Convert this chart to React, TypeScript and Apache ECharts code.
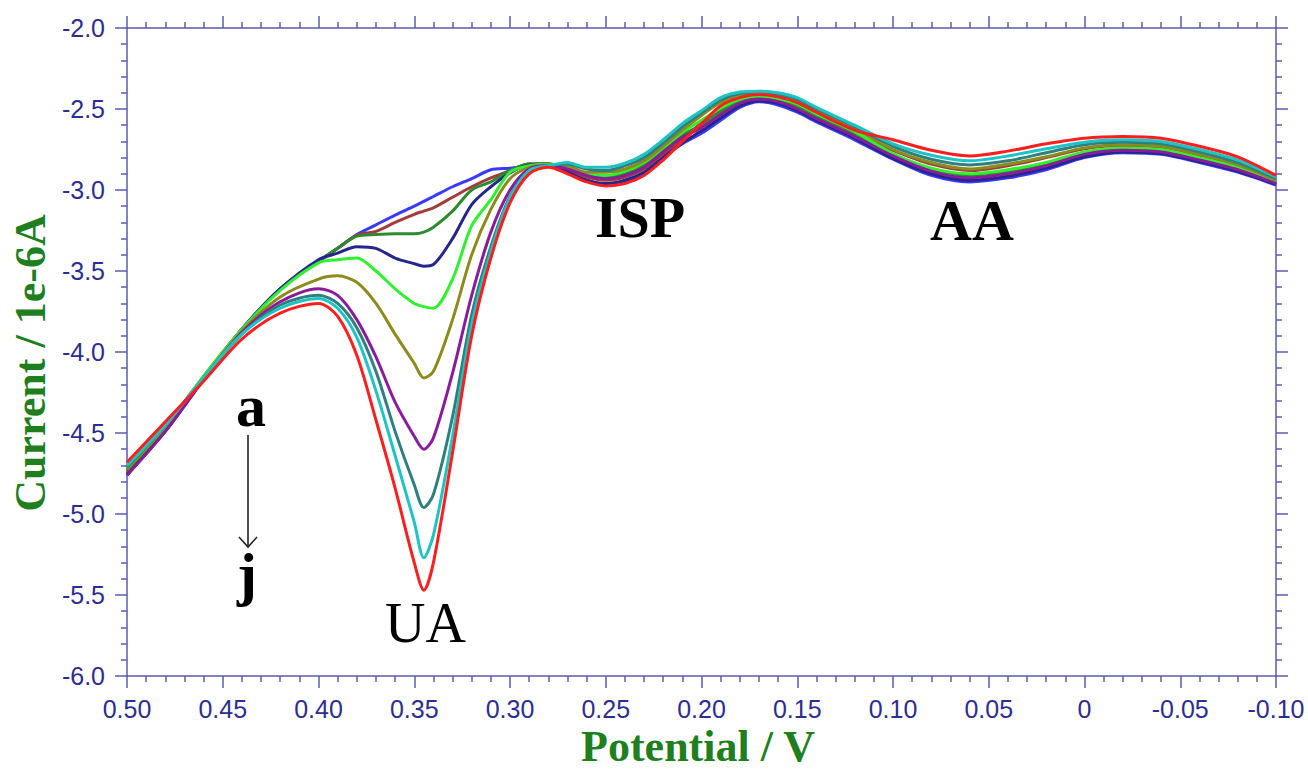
import React, { useEffect, useRef } from "react";
import * as echarts from "echarts";

// Potential (V) sample points
const POTENTIAL = [
  0.5, 0.48, 0.46, 0.44, 0.42,
  0.4, 0.39, 0.38, 0.37, 0.36,
  0.35, 0.345, 0.34, 0.33, 0.32,
  0.31, 0.3, 0.29, 0.28, 0.27,
  0.26, 0.25, 0.24, 0.23, 0.22,
  0.21, 0.2, 0.19, 0.18, 0.17,
  0.16, 0.15, 0.14, 0.12, 0.1,
  0.08, 0.06, 0.04, 0.02, 0.0,
  -0.02, -0.04, -0.06, -0.08, -0.1,
];

// Current (1e-6 A) for curves a .. j
const CURVE_A = [
  -4.75, -4.48, -4.16, -3.86, -3.61,
  -3.44, -3.36, -3.275, -3.215, -3.155,
  -3.1, -3.07, -3.04, -2.98, -2.93,
  -2.875, -2.865, -2.85, -2.84, -2.89,
  -2.94, -2.965, -2.95, -2.9, -2.8,
  -2.715, -2.65, -2.57, -2.49, -2.455,
  -2.475, -2.52, -2.58, -2.69, -2.81,
  -2.91, -2.95, -2.925, -2.875, -2.8,
  -2.77, -2.78, -2.83, -2.89, -2.97,
];
const CURVE_B = [
  -4.74, -4.48, -4.16, -3.86, -3.61,
  -3.44, -3.36, -3.28, -3.255, -3.2,
  -3.15, -3.13, -3.11, -3.045, -2.98,
  -2.925, -2.88, -2.84, -2.84, -2.88,
  -2.92, -2.94, -2.92, -2.87, -2.78,
  -2.69, -2.585, -2.505, -2.45, -2.425,
  -2.44, -2.48, -2.54, -2.65, -2.755,
  -2.84, -2.88, -2.85, -2.8, -2.745,
  -2.725, -2.735, -2.785, -2.85, -2.94,
];
const CURVE_C = [
  -4.73, -4.47, -4.15, -3.86, -3.61,
  -3.44, -3.36, -3.285, -3.275, -3.27,
  -3.27, -3.26, -3.23, -3.13, -3.0,
  -2.95, -2.88, -2.84, -2.84, -2.865,
  -2.905, -2.92, -2.9, -2.845, -2.75,
  -2.66, -2.6, -2.52, -2.455, -2.43,
  -2.45, -2.49, -2.55, -2.66, -2.78,
  -2.87, -2.91, -2.885, -2.835, -2.77,
  -2.745, -2.755, -2.805, -2.865, -2.955,
];
const CURVE_D = [
  -4.76, -4.49, -4.17, -3.86, -3.61,
  -3.43, -3.39, -3.35, -3.36, -3.42,
  -3.455, -3.47, -3.46, -3.3, -3.09,
  -2.98, -2.895, -2.845, -2.84, -2.89,
  -2.94, -2.96, -2.94, -2.89, -2.8,
  -2.71, -2.635, -2.555, -2.48, -2.45,
  -2.465, -2.51, -2.57, -2.68, -2.805,
  -2.9, -2.94, -2.915, -2.865, -2.795,
  -2.765, -2.775, -2.825, -2.885, -2.965,
];
const CURVE_E = [
  -4.72, -4.46, -4.15, -3.86, -3.62,
  -3.45, -3.43, -3.42, -3.5, -3.61,
  -3.7, -3.72, -3.73, -3.55, -3.22,
  -3.06, -2.89, -2.85, -2.84, -2.86,
  -2.9, -2.91, -2.885, -2.83, -2.74,
  -2.645, -2.57, -2.495, -2.44, -2.42,
  -2.435, -2.47, -2.53, -2.64, -2.775,
  -2.865, -2.9, -2.875, -2.83, -2.765,
  -2.74, -2.75, -2.8, -2.86, -2.95,
];
const CURVE_F = [
  -4.72, -4.46, -4.16, -3.87, -3.66,
  -3.55, -3.53, -3.57, -3.7, -3.89,
  -4.07, -4.16, -4.12, -3.8, -3.4,
  -3.12, -2.93, -2.86, -2.845, -2.85,
  -2.89, -2.89, -2.87, -2.82, -2.73,
  -2.63, -2.54, -2.46, -2.415, -2.4,
  -2.415, -2.45, -2.51, -2.62, -2.75,
  -2.83, -2.87, -2.84, -2.795, -2.74,
  -2.72, -2.73, -2.78, -2.845, -2.94,
];
const CURVE_G = [
  -4.76, -4.49, -4.17, -3.88, -3.69,
  -3.61, -3.65, -3.8, -4.03, -4.31,
  -4.52, -4.6, -4.53, -4.13, -3.65,
  -3.26, -3.0, -2.87, -2.85, -2.87,
  -2.91, -2.93, -2.91, -2.86, -2.765,
  -2.675, -2.615, -2.535, -2.465, -2.44,
  -2.455, -2.5, -2.56, -2.67, -2.79,
  -2.885, -2.925, -2.9, -2.85, -2.78,
  -2.755, -2.765, -2.815, -2.875, -2.96,
];
const CURVE_H = [
  -4.71, -4.45, -4.16, -3.89, -3.71,
  -3.65, -3.7, -3.85, -4.12, -4.49,
  -4.82, -4.96, -4.88, -4.4, -3.77,
  -3.35, -3.04, -2.88, -2.85, -2.84,
  -2.87, -2.88, -2.85, -2.8, -2.71,
  -2.61, -2.525, -2.445, -2.405, -2.395,
  -2.41, -2.44, -2.5, -2.61, -2.73,
  -2.81, -2.845, -2.82, -2.77, -2.72,
  -2.705, -2.715, -2.765, -2.83, -2.93,
];
const CURVE_I = [
  -4.7, -4.45, -4.16, -3.89, -3.73,
  -3.67, -3.73, -3.91, -4.24, -4.64,
  -5.05, -5.27, -5.13, -4.52, -3.83,
  -3.38, -3.05, -2.88, -2.85, -2.83,
  -2.86, -2.86, -2.835, -2.78, -2.69,
  -2.59, -2.51, -2.43, -2.395, -2.39,
  -2.4, -2.43, -2.49, -2.6, -2.715,
  -2.785, -2.82, -2.79, -2.745, -2.705,
  -2.69, -2.7, -2.75, -2.815, -2.92,
];
const CURVE_J = [
  -4.68, -4.43, -4.18, -3.92, -3.76,
  -3.7, -3.78, -4.02, -4.42, -4.84,
  -5.3, -5.47, -5.3, -4.62, -3.9,
  -3.42, -3.08, -2.9, -2.86, -2.9,
  -2.95, -2.975, -2.96, -2.91, -2.815,
  -2.7, -2.59, -2.48, -2.43, -2.41,
  -2.425, -2.46, -2.52, -2.63, -2.69,
  -2.755, -2.79, -2.76, -2.715, -2.68,
  -2.67, -2.68, -2.73, -2.795, -2.91,
];

const CURVE_NAMES = ["a", "b", "c", "d", "e", "f", "g", "h", "i", "j"];
const CURVES = [CURVE_A, CURVE_B, CURVE_C, CURVE_D, CURVE_E, CURVE_F, CURVE_G, CURVE_H, CURVE_I, CURVE_J];

const X_TITLE = "Potential / V";
const Y_TITLE = "Current / 1e-6A";

export default function App() {
  const ref = useRef<HTMLDivElement>(null);

  useEffect(() => {
    if (!ref.current) return;
    const chart = echarts.init(ref.current, undefined, { renderer: "svg" });
    const colors = [
      "#3a3aff", "#a23c3c", "#2e8a2e", "#25258c", "#30f030",
      "#8c8c1c", "#8a1c9c", "#2f7f7f", "#1ec4c4", "#ff1e1e",
    ];
    const axisColor = "#5b5bb0";
    const labelColor = "#2d2d8e";
    const titleColor = "#1f7f1f";
    const lineStyle = { color: axisColor, width: 1.5 };
    const tickFont = '"Liberation Sans", Arial, sans-serif';
    const serif = '"Liberation Serif", "Times New Roman", serif';

    const xBase = {
      type: "value",
      min: -0.1,
      max: 0.5,
      interval: 0.05,
      inverse: true,
      splitLine: { show: false },
      axisLine: { show: true, onZero: false, lineStyle },
      axisTick: { show: true, length: 12, lineStyle },
      minorTick: { show: true, splitNumber: 5, length: 6, lineStyle },
      minorSplitLine: { show: false },
    };
    const yBase = {
      type: "value",
      min: -6,
      max: -2,
      interval: 0.5,
      splitLine: { show: false },
      axisLine: { show: true, onZero: false, lineStyle },
      axisTick: { show: true, length: 12, lineStyle },
      minorTick: { show: true, splitNumber: 5, length: 6, lineStyle },
      minorSplitLine: { show: false },
    };

    const option: any = {
      animation: false,
      backgroundColor: "#ffffff",
      grid: { left: 127, right: 32, top: 28, bottom: 99 },
      xAxis: [
        {
          ...xBase,
          position: "bottom",
          axisLabel: {
            show: true,
            margin: 20,
            color: labelColor,
            fontSize: 25,
            fontFamily: tickFont,
            formatter: (v: number) => (Math.abs(v) < 1e-9 ? "0" : v.toFixed(2)),
          },
        },
        { ...xBase, position: "top", axisLabel: { show: false } },
      ],
      yAxis: [
        {
          ...yBase,
          position: "left",
          axisLabel: {
            show: true,
            margin: 22,
            color: labelColor,
            fontSize: 25,
            fontFamily: tickFont,
            formatter: (v: number) => v.toFixed(1),
          },
        },
        { ...yBase, position: "right", axisLabel: { show: false } },
      ],
      series: CURVES.map((ys, k) => ({
        name: CURVE_NAMES[k],
        type: "line",
        xAxisIndex: 0,
        yAxisIndex: 0,
        showSymbol: false,
        smooth: 0.3,
        data: POTENTIAL.map((x, i) => [x, ys[i]]),
        lineStyle: { color: colors[k], width: 3 },
        itemStyle: { color: colors[k] },
      })),
      graphic: [
        {
          type: "text",
          x: 698,
          y: 746,
          style: {
            text: X_TITLE,
            fill: titleColor,
            fontFamily: serif,
            fontWeight: "bold",
            fontSize: 44,
            align: "center",
            verticalAlign: "middle",
          },
        },
        {
          type: "text",
          x: 30,
          y: 363,
          rotation: Math.PI / 2,
          style: {
            text: Y_TITLE,
            fill: titleColor,
            fontFamily: serif,
            fontWeight: "bold",
            fontSize: 44,
            align: "center",
            verticalAlign: "middle",
          },
        },
        {
          type: "text",
          x: 385,
          y: 623,
          style: { text: "UA", fill: "#000", fontFamily: serif, fontSize: 56, align: "left", verticalAlign: "middle" },
        },
        {
          type: "text",
          x: 595,
          y: 217,
          style: { text: "ISP", fill: "#000", fontFamily: serif, fontWeight: "bold", fontSize: 58, align: "left", verticalAlign: "middle" },
        },
        {
          type: "text",
          x: 930,
          y: 220,
          style: { text: "AA", fill: "#000", fontFamily: serif, fontWeight: "bold", fontSize: 58, align: "left", verticalAlign: "middle" },
        },
        {
          type: "text",
          x: 251,
          y: 406,
          style: { text: "a", fill: "#000", fontFamily: serif, fontWeight: "bold", fontSize: 60, align: "center", verticalAlign: "middle" },
        },
        {
          type: "text",
          x: 247,
          y: 574,
          style: { text: "j", fill: "#000", fontFamily: serif, fontWeight: "bold", fontSize: 60, align: "center", verticalAlign: "middle" },
        },
        {
          type: "line",
          shape: { x1: 248, y1: 435, x2: 248, y2: 547 },
          style: { stroke: "#222", lineWidth: 1.6 },
        },
        {
          type: "polyline",
          shape: { points: [[239, 537], [248, 547], [257, 537]] },
          style: { stroke: "#222", lineWidth: 1.6, fill: "none" },
        },
      ],
    };

    chart.setOption(option);
    return () => chart.dispose();
  }, []);

  return (
    <div
      ref={ref}
      style={{ position: "fixed", left: 0, top: 0, width: 1308, height: 775, background: "#fff" }}
    />
  );
}
